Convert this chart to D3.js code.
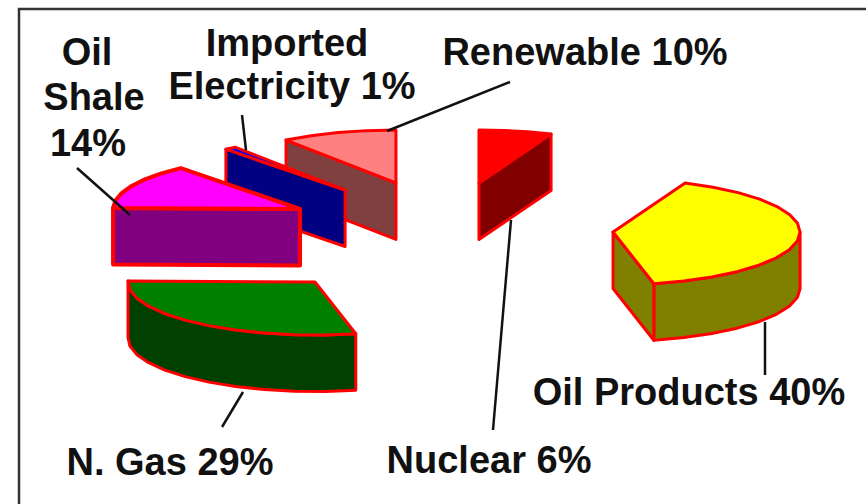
<!DOCTYPE html>
<html>
<head>
<meta charset="utf-8">
<script src="https://d3js.org/d3.v7.min.js"></script>
<style>
html, body { margin:0; padding:0; background:#fff; }
svg { display:block; }
text { font-family:"Liberation Sans", Arial, sans-serif; font-weight:bold; font-size:38px; fill:#111; }
</style>
</head>
<body>
<svg></svg>
<script>
// data
var categories = ["Nuclear","Oil Products","N. Gas","Oil Shale","Imported Electricity","Renewable"]
var shares = [6.3,40.2,28.8,13.7,1,10]

// looks of each slice
var topColors = ["#ff0000","#ffff00","#008000","#ff00ff","#0000ff","#ff8080"]
var sideColors = ["#800000","#808000","#004000","#800080","#000080","#804040"]
var edgeWidths = [3,3,3,4,3,3]

// how far each slice is pulled out of the pie, in pie units
var explodeX = [0.171,0.888,-0.706,-0.786,-0.545,-0.273]
var explodeY = [-0.925,0,0.943,-0.434,-0.792,-0.925]

var screen2 = {width:866,height:504}
var pieBox = {cx:447,cy:232,rx:187,ry:53,depth:56.5}

var xScale = d3.scaleLinear().domain([-1,1]).range([pieBox.cx-pieBox.rx,pieBox.cx+pieBox.rx])
var yScale = d3.scaleLinear().domain([-1,1]).range([pieBox.cy-pieBox.ry,pieBox.cy+pieBox.ry])

var svg = d3.select("svg")
  .attr("width",screen2.width)
  .attr("height",screen2.height)

// outer frame, runs off the right and bottom of the page
svg.append("rect")
  .attr("x",19)
  .attr("y",9)
  .attr("width",880)
  .attr("height",520)
  .attr("fill","none")
  .attr("stroke","#333")
  .attr("stroke-width",2.5)

var pie = d3.pie().sort(null).value(function(d){return d.share})

var slices = pie(categories.map(function(name,i)
{
    return {name:name,share:shares[i],top:topColors[i],side:sideColors[i],edge:edgeWidths[i],ex:explodeX[i],ey:explodeY[i]}
}))

// outline of the top face: centre first, then the arc clockwise
var outline = function(slice)
{
    var pts = [[xScale(slice.data.ex),yScale(slice.data.ey)]]
    var steps = Math.max(2,Math.ceil((slice.endAngle-slice.startAngle)/0.17))
    d3.range(steps+1).forEach(function(i)
    {
        var a = slice.startAngle+(slice.endAngle-slice.startAngle)*i/steps
        pts.push([xScale(slice.data.ex+Math.sin(a)),yScale(slice.data.ey-Math.cos(a))])
    })
    return pts
}

var drawLine = d3.line()

var closedPath = function(pts){return drawLine(pts)+"Z"}

// a wall hangs under a run of points that moves left on screen
var wall = function(run)
{
    var lower = run.map(function(p){return [p[0],p[1]+pieBox.depth]}).reverse()
    return run.concat(lower)
}

var walls = function(pts)
{
    var n = pts.length
    var out = []
    var arc = []
    pts.slice(1).forEach(function(p,i)
    {
        if(i==0){return}
        var prev = pts[i]
        if(p[0]<prev[0])
        {
            if(arc.length==0){arc.push(prev)}
            arc.push(p)
        }
        else if(arc.length>0)
        {
            out.push(arc)
            arc = []
        }
    })
    if(arc.length>0){out.push(arc)}
    // the two straight edges
    if(pts[0][0]<pts[n-1][0]){out.push([pts[n-1],pts[0]])}
    if(pts[1][0]<pts[0][0]){out.push([pts[0],pts[1]])}
    return out
}

var order = slices.slice().sort(function(a,b){return a.data.ey-b.data.ey})

var groups = svg.selectAll("g.slice")
  .data(order)
  .enter()
  .append("g")
  .classed("slice",true)

groups.each(function(slice)
{
    var g = d3.select(this)
    var pts = outline(slice)
    g.selectAll("path.wall")
      .data(walls(pts))
      .enter()
      .append("path")
      .classed("wall",true)
      .attr("d",function(run){return closedPath(wall(run))})
      .attr("fill",slice.data.side)
      .attr("stroke","#ff0000")
      .attr("stroke-width",slice.data.edge)
      .attr("stroke-linejoin","round")
    g.append("path")
      .attr("d",closedPath(pts))
      .attr("fill",slice.data.top)
      .attr("stroke","#ff0000")
      .attr("stroke-width",slice.data.edge)
      .attr("stroke-linejoin","round")
})

// leader lines
var leaders = [
    [[77,168],[130,215]],
    [[242,115],[246,150]],
    [[510,82],[387,131]],
    [[511,220],[493,430]],
    [[765,322],[765,375]],
    [[243,392],[222,427]]
]

svg.selectAll("path.leader")
  .data(leaders)
  .enter()
  .append("path")
  .classed("leader",true)
  .attr("d",function(d){return drawLine(d)})
  .attr("fill","none")
  .attr("stroke","#111")
  .attr("stroke-width",2.5)

// labels
var labels = [
    {text:"Oil",x:87,y:65},
    {text:"Shale",x:94,y:110},
    {text:"14%",x:88,y:156},
    {text:"Imported",x:287,y:56},
    {text:"Electricity 1%",x:292,y:99},
    {text:"Renewable 10%",x:585,y:65},
    {text:"Oil Products 40%",x:689,y:405},
    {text:"Nuclear 6%",x:489,y:473},
    {text:"N. Gas 29%",x:170,y:475}
]

svg.selectAll("text")
  .data(labels)
  .enter()
  .append("text")
  .attr("x",function(d){return d.x})
  .attr("y",function(d){return d.y})
  .attr("text-anchor","middle")
  .text(function(d){return d.text})
</script>
</body>
</html>
